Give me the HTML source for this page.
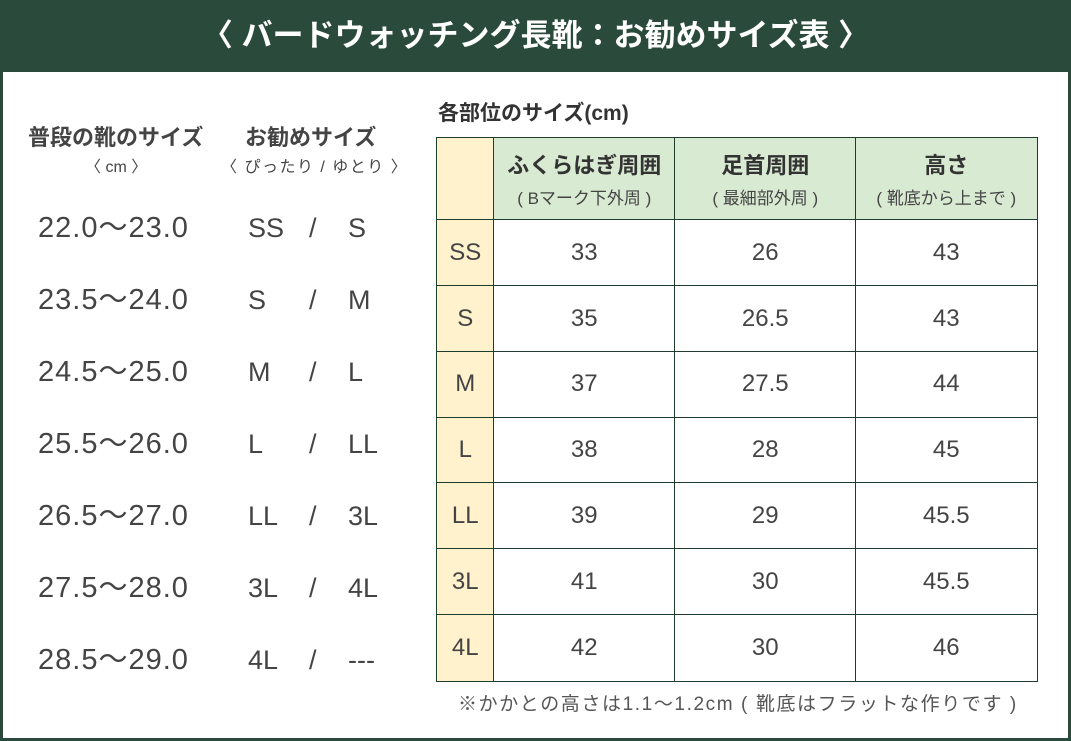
<!DOCTYPE html>
<html><head><meta charset="utf-8"><style>
*{margin:0;padding:0;box-sizing:border-box}
body{width:1071px;height:741px;position:relative;background:#fff;overflow:hidden;font-family:"Liberation Sans","Noto Sans CJK JP",sans-serif;color:#444}
.frame{position:absolute;left:0;top:0;width:1071px;height:741px;border:3px solid #2a4a3b}
.hdr{position:absolute;left:0;top:0;width:1071px;height:72px;background:#2a4a3b;color:#fff;font-size:31px;font-weight:bold;text-align:center;line-height:72px}
.t{position:absolute;white-space:nowrap;line-height:1}
.c{position:absolute;border:1.5px solid #1f3d2e;display:flex;align-items:center;justify-content:center;flex-direction:column;font-size:24px;color:#444}
</style></head><body>
<div class="frame"></div>
<div class="hdr">〈 バードウォッチング長靴：お勧めサイズ表 〉</div>
<div class="t" style="left:28px;top:127px;font-size:22px;font-weight:bold;color:#444">普段の靴のサイズ</div>
<div class="t" style="left:85px;top:160px;font-size:16px">〈 cm 〉</div>
<div class="t" style="left:245px;top:127px;font-size:22px;font-weight:bold;color:#444">お勧めサイズ</div>
<div class="t" style="left:221px;top:160px;font-size:16px;letter-spacing:1.5px">〈 ぴったり / ゆとり 〉</div>
<div class="t" style="left:438px;top:103px;font-size:21px;font-weight:bold;color:#333">各部位のサイズ(cm)</div>
<div id="left"></div>
<div id="tbl"></div>
<div class="t" style="left:458px;top:695px;font-size:19px;color:#555;letter-spacing:1.6px">※かかとの高さは1.1～1.2cm ( 靴底はフラットな作りです )</div>
<script>
var L=[["22.0〜23.0","SS","S"],["23.5〜24.0","S","M"],["24.5〜25.0","M","L"],["25.5〜26.0","L","LL"],["26.5〜27.0","LL","3L"],["27.5〜28.0","3L","4L"],["28.5〜29.0","4L","---"]];
var h="";
L.forEach(function(r,i){var y=214+i*72;
h+='<div class="t" style="left:38px;top:'+y+'px;font-size:29px;letter-spacing:1px">'+r[0]+'</div>';
h+='<div class="t" style="left:248px;top:'+(y+1)+'px;font-size:27px">'+r[1]+'</div>';
h+='<div class="t" style="left:309px;top:'+(y+1)+'px;font-size:27px">/</div>';
h+='<div class="t" style="left:348px;top:'+(y+1)+'px;font-size:27px">'+r[2]+'</div>';});
document.getElementById("left").innerHTML=h;
var xs=[436,493,674,855,1036];
var T=[["SS",33,26,43],["S",35,26.5,43],["M",37,27.5,44],["L",38,28,45],["LL",39,29,45.5],["3L",41,30,45.5],["4L",42,30,46]];
var H=[["",""],["ふくらはぎ周囲","( Bマーク下外周 )"],["足首周囲","( 最細部外周 )"],["高さ","( 靴底から上まで )"]];
var s="";
for(var c=0;c<4;c++){var bg=c==0?"#fff2cc":"#d9ead3";
s+='<div class="c" style="left:'+xs[c]+'px;top:137px;width:'+(xs[c+1]-xs[c]+1.5)+'px;height:83.5px;background:'+bg+'"><div style="font-size:22px;font-weight:bold;color:#333">'+H[c][0]+'</div><div style="font-size:17px;margin-top:4px;color:#444">'+H[c][1]+'</div></div>';}
T.forEach(function(r,i){var y=219+i*65.86;
for(var c=0;c<4;c++){var bg=c==0?"#fff2cc":"#fff";
s+='<div class="c" style="left:'+xs[c]+'px;top:'+y+'px;width:'+(xs[c+1]-xs[c]+1.5)+'px;height:67.4px;background:'+bg+'">'+r[c]+'</div>';}});
document.getElementById("tbl").innerHTML=s;
</script>
</body></html>
